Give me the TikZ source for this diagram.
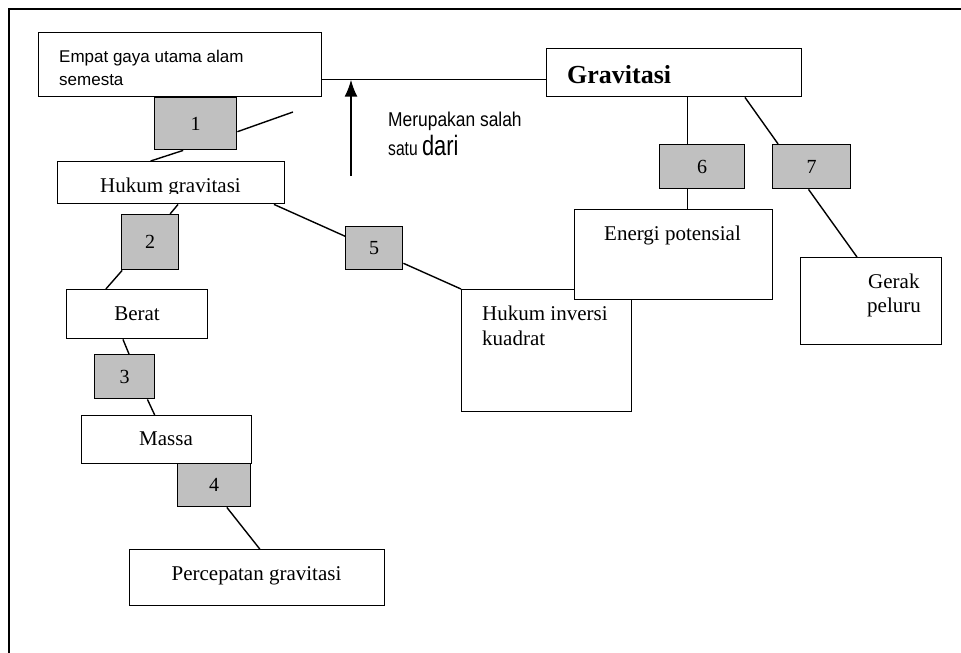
\documentclass[tikz,border=0pt]{standalone}
\usepackage{fontspec}
\usepackage{graphicx}
\setmainfont{Liberation Serif}
\newfontfamily\arialfont{Liberation Sans}
\usetikzlibrary{calc,arrows.meta}
\definecolor{numgray}{RGB}{192,192,192}

\begin{document}
\begin{tikzpicture}[x=1pt,y=-1pt,
  box/.style={draw=black, line width=1.4pt, fill=white, rectangle, inner sep=0pt, anchor=north west},
  dims/.style 2 args={minimum width=#1pt, minimum height=#2pt},
  numbox/.style={box, fill=numgray, font=\fontsize{20}{24}\selectfont},
  serif/.style={font=\fontsize{21}{25}\selectfont, inner sep=0pt},
  sans/.style={font=\arialfont\fontsize{17}{20}\selectfont, inner sep=0pt},
  link/.style={line width=1.4pt},
]
\useasboundingbox (0,0) rectangle (961,653);

% page frame (left and top edges only)
\draw[line width=1.5pt] (9,653) -- (9,9) -- (961,9);

% concept boxes
\node[box, dims={283}{64}] (emp) at (38,32) {};
\node[box, dims={255}{48}] (grav) at (546,48) {};
\node[box, dims={227}{42}] (hg) at (57,161) {};
\node[box, dims={141}{49}] (berat) at (66,289) {};
\node[box, dims={170}{48}] (massa) at (81,415) {};
\node[box, dims={255}{56}] (perc) at (129,549) {};
\node[box, dims={141}{87}] (gerak) at (800,257) {};

% numbered link boxes
\node[numbox, dims={82}{52}] (b1) at (154,97) {1};
\node[numbox, dims={57}{55}] (b2) at (121,214) {2};
\node[numbox, dims={60}{44}] (b3) at (94,354) {3};
\node[numbox, dims={73}{43}] (b4) at (177,463) {4};
\node[numbox, dims={57}{43}] (b5) at (345,226) {5};
\node[numbox, dims={85}{44}] (b6) at (659,144) {6};
\node[numbox, dims={78}{44}] (b7) at (772,144) {7};

% connectors
\draw[link] ($(emp.north east)!0.73!(emp.south east)$) coordinate (jl) -- (jl -| grav.west);
\coordinate (arrowtail) at (351,176);
\draw[line width=1.6pt, -{Latex[length=17pt,width=13pt]}] (arrowtail) -- (arrowtail |- jl);

\coordinate (free1) at (293,112);
\draw[link] ($(b1.north east)!0.65!(b1.south east)$) -- (free1);
\draw[link] ($(b1.south west)!0.35!(b1.south east)$) -- ($(hg.north west)!0.41!(hg.north east)$);
\draw[link] ($(hg.south west)!0.53!(hg.south east)$) -- ($(b2.north west)!0.84!(b2.north east)$);
\draw[link] ($(b2.south west)!0.02!(b2.south east)$) -- ($(berat.north west)!0.28!(berat.north east)$);
\draw[link] ($(berat.south west)!0.40!(berat.south east)$) -- ($(b3.north west)!0.57!(b3.north east)$);
\draw[link] ($(b3.south west)!0.87!(b3.south east)$) -- ($(massa.north west)!0.43!(massa.north east)$);
\draw[link] ($(b4.south west)!0.67!(b4.south east)$) -- ($(perc.north west)!0.51!(perc.north east)$);
\draw[link] ($(hg.south west)!0.95!(hg.south east)$) -- ($(b5.north west)!0.23!(b5.south west)$);

% inverse-square box, then the overlapping potential-energy box on top
\node[box, dims={170}{122}] (hinv) at (461,289) {};
\draw[link] ($(b5.north east)!0.84!(b5.south east)$) -- (hinv.north west);
\node[box, dims={198}{90}] (en) at (574,209) {};

\draw[link] ($(grav.south west)!0.553!(grav.south east)$) coordinate (g6) -- (g6 |- b6.north);
\draw[link] (g6 |- b6.south) -- (g6 |- en.north);
\draw[link] ($(grav.south west)!0.776!(grav.south east)$) -- ($(b7.north west)!0.077!(b7.north east)$);
\draw[link] ($(b7.south west)!0.46!(b7.south east)$) -- ($(gerak.north west)!0.40!(gerak.north east)$);

% box texts
\node[sans, anchor=base west] (empT1) at (59,62) {Empat gaya utama alam};
\node[sans, anchor=base west] (empT2) at (59,85) {semesta};
\node[inner sep=0pt, anchor=base west, font=\fontsize{26}{30}\selectfont\bfseries] (gravT) at (567,83) {Gravitasi};
\begin{scope}
  \clip (57,150) rectangle (284,193);
  \node[serif, anchor=base] (hgT) at (170.5,192) {Hukum gravitasi};
\end{scope}
\node[serif, anchor=base] (beratT) at (137,320) {Berat};
\node[serif, anchor=base] (massaT) at (166,445) {Massa};
\node[serif, anchor=base] (percT) at (256.5,580) {Percepatan gravitasi};
\node[serif, anchor=base] (enT) at (672.5,240) {Energi potensial};
\node[serif, anchor=base west] (hinvT1) at (482,320) {Hukum inversi};
\node[serif, anchor=base west] (hinvT2) at (482,345) {kuadrat};
\node[serif, anchor=base west] (gerakT1) at (868,288) {Gerak};
\node[serif, anchor=base west] (gerakT2) at (867,312) {peluru};

% relation label beside the arrow
\node[inner sep=0pt, anchor=base west, font=\arialfont\fontsize{20}{24}\selectfont] (relT1) at (388,126)
  {\scalebox{0.87}[1]{Merupakan salah}};
\node[inner sep=0pt, anchor=base west, font=\arialfont\fontsize{20}{24}\selectfont] (relT2) at (388,155)
  {\scalebox{0.78}[1]{satu {\fontsize{28}{30}\selectfont dari}}};
\end{tikzpicture}
\end{document}
